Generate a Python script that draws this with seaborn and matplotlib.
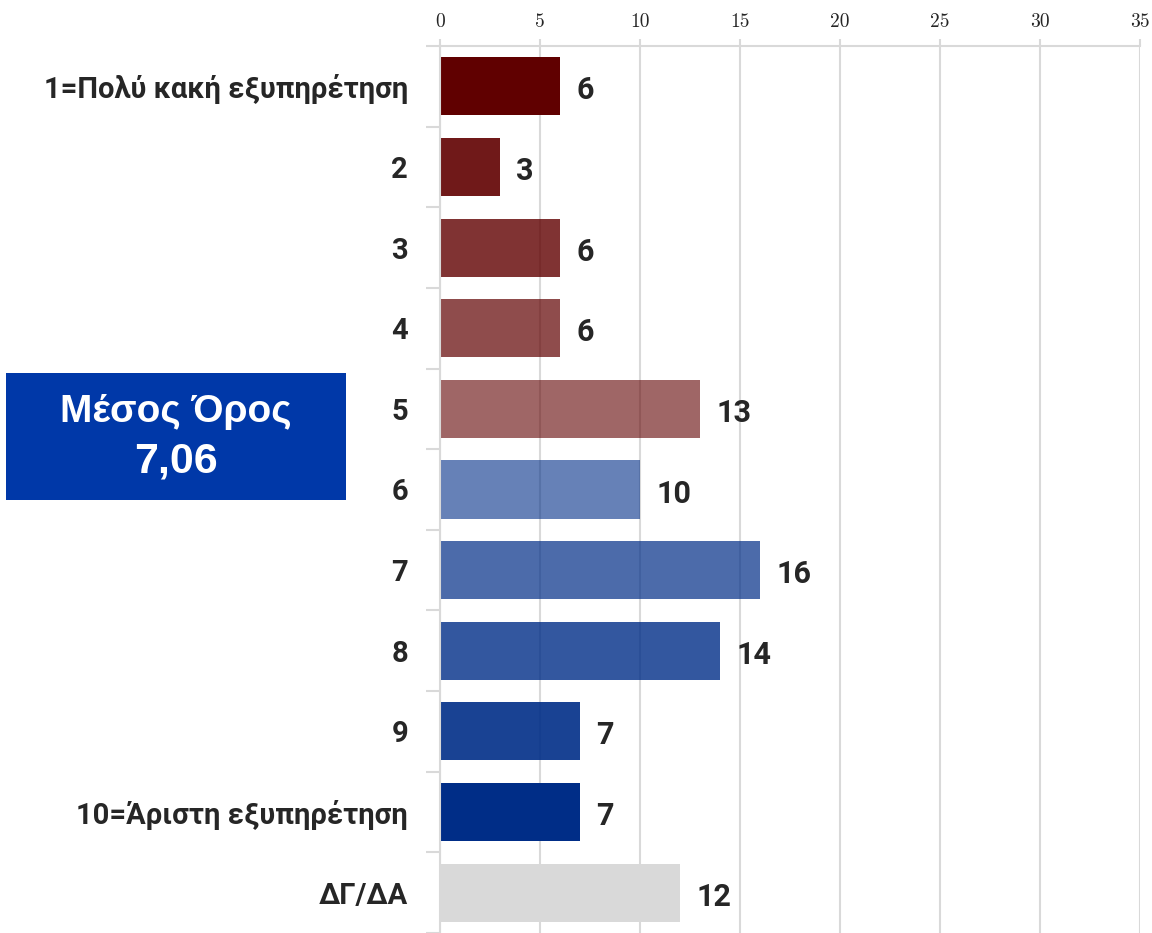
import matplotlib
matplotlib.use("Agg")
import matplotlib.pyplot as plt
from matplotlib.patches import Rectangle
import seaborn as sns
import pandas as pd

# data
categories = ["1=Πολύ κακή εξυπηρέτηση", "2", "3", "4", "5", "6", "7", "8", "9",
              "10=Άριστη εξυπηρέτηση", "ΔΓ/ΔΑ"]
counts = [6, 3, 6, 6, 13, 10, 16, 14, 7, 7, 12]
bar_colors = ["#600000", "#600000", "#600000", "#600000", "#600000",
              "#002d87", "#002d87", "#002d87", "#002d87", "#002d87", "#d9d9d9"]
bar_alphas = [1.0, 0.9, 0.8, 0.7, 0.6, 0.6, 0.7, 0.8, 0.9, 1.0, 1.0]
x_ticks = [0, 5, 10, 15, 20, 25, 30, 35]
mean_title = "Μέσος Όρος"
mean_value = "7,06"

df = pd.DataFrame({"cat": categories, "n": counts})

sns.set_style("white")
label_font = ["Liberation Sans Narrow", "Roboto", "DejaVu Sans"]
grid_col = "#d9d9d9"

fig = plt.figure(figsize=(11.52, 9.33), dpi=100)
ax = fig.add_axes([0.382, 0.0, 0.6076, 0.9507])

sns.barplot(data=df, y="cat", x="n", hue="cat", palette=bar_colors,
            order=categories, legend=False, width=0.72, ax=ax,
            saturation=1, zorder=2)
for p, a in zip(ax.patches, bar_alphas):
    p.set_alpha(a)
    p.set_edgecolor("none")

ax.set_xlim(0, 35)
ax.set_ylim(10.5, -0.5)
ax.set_xticks(x_ticks)
ax.xaxis.tick_top()
ax.tick_params(axis="x", length=5, width=1.5, color=grid_col, pad=6,
               labelsize=14)
for t in ax.get_xticklabels():
    t.set_family("cmr10")
ax.grid(axis="x", color=grid_col, lw=1.5, zorder=0)
ax.set_axisbelow(True)

# category labels, ticks between rows
ax.set_yticks(range(len(categories)))
ax.set_yticklabels(categories, family=label_font, fontweight="bold",
                   fontsize=21, color="#262626")
ax.tick_params(axis="y", length=0, pad=23)
ax.set_yticks([i - 0.5 for i in range(len(categories) + 1)], minor=True)
ax.tick_params(axis="y", which="minor", length=10, width=1.5, color=grid_col,
               left=True)
ax.set_xlabel("")
ax.set_ylabel("")

for s in ["right", "bottom"]:
    ax.spines[s].set_visible(False)
for s in ["left", "top"]:
    ax.spines[s].set_color(grid_col)
    ax.spines[s].set_linewidth(1.5)

# value labels
for i, v in enumerate(counts):
    ax.text(v + 0.8, i + 0.05, str(v), va="center", ha="left",
            family=label_font, fontweight="bold", fontsize=22,
            color="#262626")

# mean box
fig.patches.append(Rectangle((6 / 1152, 1 - 500 / 933), 340 / 1152, 127 / 933,
                             transform=fig.transFigure, facecolor="#0038a8",
                             edgecolor="none"))
fig.text(176 / 1152, 1 - 412 / 933, mean_title, ha="center", va="center",
         color="white", fontsize=28, fontweight="bold",
         family=["Liberation Sans", "DejaVu Sans"])
fig.text(176 / 1152, 1 - 462 / 933, mean_value, ha="center", va="center",
         color="white", fontsize=31, fontweight="bold",
         family=["Liberation Sans", "DejaVu Sans"])

fig.savefig("out.png", dpi=100)
